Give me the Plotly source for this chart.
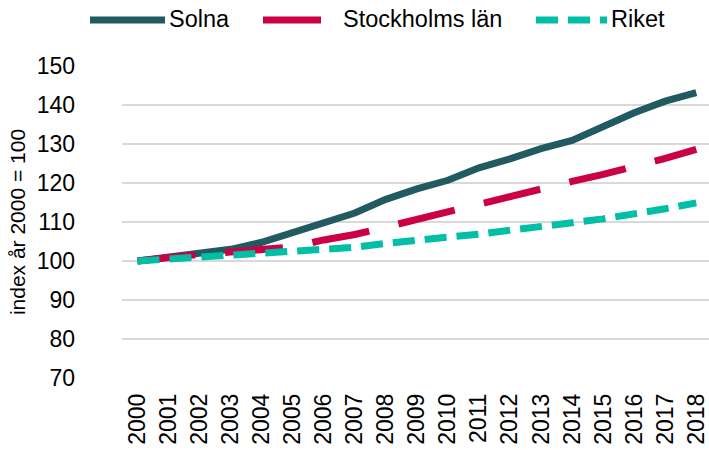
"""Befolkningsutveckling, index år 2000 = 100: Solna, Stockholms län och riket."""

import plotly.graph_objects as go

years = [str(y) for y in range(2000, 2019)]

solna = [100.0, 101.0, 102.0, 103.0, 104.8, 107.4, 109.6, 112.3, 115.8, 118.5,
         120.7, 123.9, 126.2, 128.8, 130.9, 134.6, 138.0, 141.0, 143.2]
stockholms_lan = [100.0, 101.0, 101.7, 102.3, 102.8, 103.6, 105.4, 106.8, 108.7, 110.7,
                  112.6, 114.7, 116.5, 118.6, 120.4, 122.2, 124.1, 126.3, 128.6]
riket = [100.0, 100.5, 100.9, 101.2, 101.6, 102.1, 102.7, 103.5, 104.5, 105.2,
         106.1, 106.9, 107.9, 108.7, 109.8, 110.8, 112.0, 113.4, 114.9]

y_ticks = [70, 80, 90, 100, 110, 120, 130, 140, 150]

FONT = "Liberation Sans, Arial, sans-serif"

# plot area in pixels (used only to place the hand-drawn legend)
W, H = 709, 450
L, R, T, B = 122, 0, 66, 72
PW, PH = W - L - R, H - T - B


def px_x(px):
    return (px - L) / PW


def px_y(py):
    return (H - B - py) / PH


fig = go.Figure()

# name, values, colour, dash, legend line start/end (px), legend text x (px)
series = [
    ("Solna", solna, "#215A60", "solid", 90, 165, 167),
    ("Stockholms län", stockholms_lan, "#CC0044", "58px,30px", 263, 323, 341),
    ("Riket", riket, "#00BFA6", "22px,10px", 536, 607, 609),
]
for name, values, color, dash, lx0, lx1, tx in series:
    fig.add_trace(
        go.Scatter(
            x=years,
            y=values,
            name=name,
            mode="lines",
            line={"color": color, "width": 7, "dash": dash},
            showlegend=False,
        )
    )
    # legend entry drawn by hand so spacing matches
    fig.add_shape(
        type="line",
        xref="paper",
        yref="paper",
        x0=px_x(lx0),
        x1=px_x(lx1),
        y0=px_y(20),
        y1=px_y(20),
        line={"color": color, "width": 7, "dash": dash},
    )
    fig.add_annotation(
        text=name,
        xref="paper",
        yref="paper",
        x=px_x(tx),
        y=px_y(19),
        xanchor="left",
        yanchor="middle",
        showarrow=False,
        font={"size": 23.5, "color": "black"},
    )

fig.update_layout(
    width=W,
    height=H,
    margin={"l": L, "r": R, "t": T, "b": B},
    paper_bgcolor="white",
    plot_bgcolor="white",
    font={"family": FONT, "size": 23, "color": "black"},
    showlegend=False,
    xaxis={
        "type": "category",
        "range": [-0.5, 18.41],
        "tickangle": -90,
        "showgrid": False,
        "ticks": "",
        "ticklabelstandoff": 10,
        "tickfont": {"size": 23},
        "automargin": False,
    },
    yaxis={
        "range": [70, 150],
        "tickvals": y_ticks,
        "showgrid": True,
        "gridcolor": "#D9D9D9",
        "gridwidth": 1.5,
        "zeroline": False,
        "ticks": "",
        "ticklabelstandoff": 46,
        "tickfont": {"size": 23},
        "automargin": False,
        "title": {"text": "index år 2000 = 100", "font": {"size": 21}, "standoff": 5},
    },
)

# drop the browser's default 8px body margin so the figure sits at (0, 0)
fig.write_html(
    "out.html",
    config={"displayModeBar": False},
    post_script="document.body.style.margin = '0';",
)
